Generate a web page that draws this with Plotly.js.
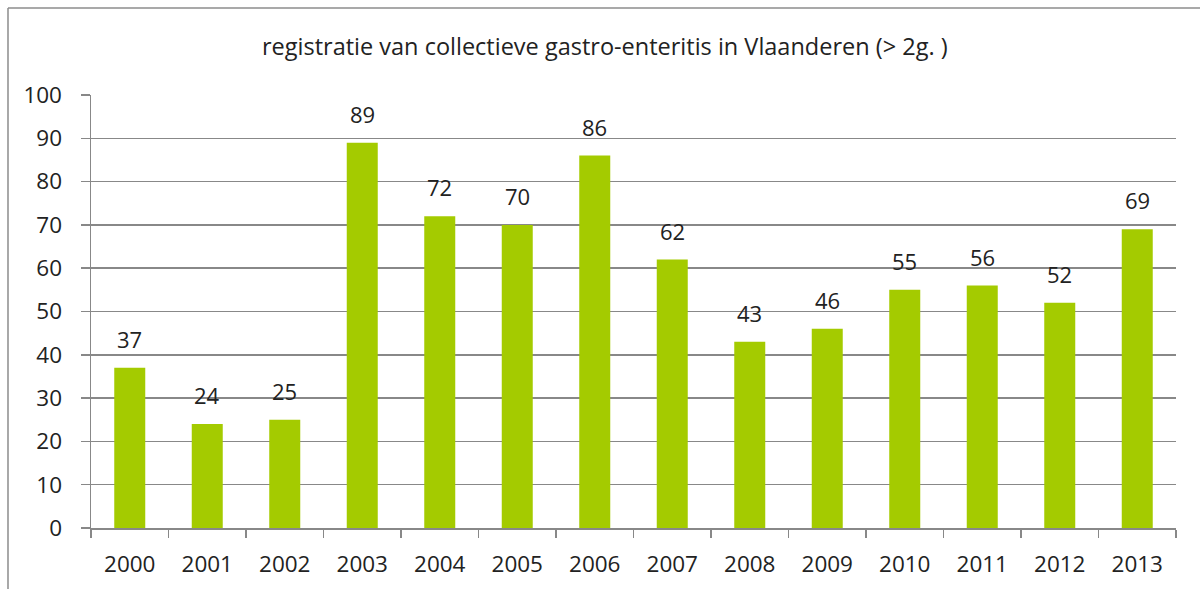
<!DOCTYPE html>
<html><head><meta charset="utf-8">
<script src="https://cdn.plot.ly/plotly-3.0.1.min.js"></script>
<style>html,body{margin:0;padding:0;background:#fff;}#chart{width:1200px;height:589px;}</style>
</head><body><div id="chart"></div>
<script>
const years = ['2000','2001','2002','2003','2004','2005','2006','2007','2008','2009','2010','2011','2012','2013'];
const counts = [37,24,25,89,72,70,86,62,43,46,55,56,52,69];
const yTicks = [0,10,20,30,40,50,60,70,80,90,100];
const titleText = 'registratie van collectieve gastro-enteritis in Vlaanderen (> 2g. )';

const FONT = '"Open Sans", sans-serif';
const TXT = '#222222';
const GRID = '#888888';

const annotations = years.map((yr, i) => ({
  x: i, y: counts[i], xref: 'x', yref: 'y', text: String(counts[i]),
  showarrow: false, yanchor: 'bottom', yshift: 12,
  font: {family: FONT, size: 22, color: TXT}
}));

const layout = {
  width: 1200, height: 589,
  margin: {l: 91, r: 24, t: 95, b: 61},
  paper_bgcolor: '#fff', plot_bgcolor: '#fff',
  title: {text: titleText, x: 0.504, xanchor: 'center', y: 0.92, yanchor: 'middle',
          font: {family: FONT, size: 23.5, color: TXT}},
  showlegend: false,
  bargap: 0.6,
  xaxis: {
    type: 'category', range: [-0.5, years.length - 0.5], autorange: false,
    tickson: 'boundaries', ticks: 'outside', ticklen: 8, tickwidth: 1.5, tickcolor: GRID,
    showline: true, linecolor: GRID, linewidth: 1.5, showgrid: false,
    tickfont: {family: FONT, size: 22.5, color: TXT}, ticklabelstandoff: 15
  },
  yaxis: {
    range: [0, 100], autorange: false, tickvals: yTicks, ticktext: yTicks.map(String),
    ticks: 'outside', ticklen: 9, tickwidth: 1.5, tickcolor: GRID,
    showline: true, linecolor: GRID, linewidth: 1.5,
    showgrid: true, gridcolor: GRID, gridwidth: 1.5, zeroline: false,
    tickfont: {family: FONT, size: 22.5, color: TXT}, ticklabelstandoff: 14
  },
  annotations: annotations,
  shapes: [
    {type: 'line', xref: 'paper', yref: 'paper', x0: -0.0765, x1: -0.0765, y0: -0.2, y1: 1.2009,
     line: {color: '#8c8c8c', width: 1.5}},
    {type: 'line', xref: 'paper', yref: 'paper', x0: -0.0765, x1: 1.05, y0: 1.2009, y1: 1.2009,
     line: {color: '#8c8c8c', width: 1.5}}
  ]
};

Plotly.newPlot('chart', [{
  type: 'bar', x: years, y: counts,
  marker: {color: '#A4CB00', line: {width: 0}},
  hoverinfo: 'x+y'
}], layout, {staticPlot: true, displayModeBar: false});
</script></body></html>
